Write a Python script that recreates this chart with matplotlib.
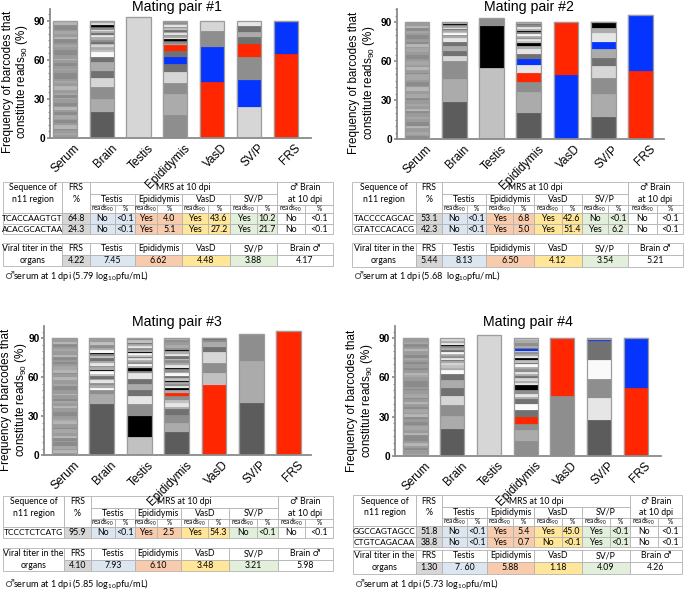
import numpy as np
import matplotlib
matplotlib.use("Agg")
import matplotlib.pyplot as plt
import matplotlib.transforms as mtransforms
from matplotlib.patches import Rectangle
from matplotlib.ticker import MultipleLocator

W, H, DPI = 685, 598, 100

categories = ["Serum", "Brain", "Testis", "Epididymis", "VasD", "SV/P", "FRS"]

SHADE = {
    "k": "#000000", "d": "#5c5c5c", "m": "#717171", "g": "#8e8e8e", "h": "#9b9b9b",
    "l": "#ababab", "L": "#c1c1c1", "p": "#d6d6d6", "w": "#e6e6e6", "W": "#fafafa",
    "R": "#ff2600", "B": "#0634ff",
    "a": "#a7a7a7", "b": "#b6b6b6", "c": "#8b8b8b",
}

# ---------------- Mating pair #1: stacked segment heights (bottom -> top) ----------------
pair1_heights = [
    [2, 1.5, 2.5, 1, 3, 1.5, 2, 1, 3, 2.5, 1.5, 2, 1, 2.5, 3, 1, 2, 1.5, 2.5, 3,
     2.5, 1, 2, 3, 1.5, 2, 1, 2.5, 2, 2.5, 1, 3, 2, 1.5, 2.5, 1, 2, 3, 1.5, 2.5,
     2, 1, 2.5, 1.5, 3],
    [20, 10, 9.5, 6.5, 5.5, 6.5, 4.5, 3.5,
     1.5, 2, 1.5, 1.5, 1.5, 1.5, 2, 1.5, 1.5, 1.5, 1, 1.5, 1, 1, 1.5, 2],
    [92.5],
    [17.5, 16, 9, 8, 6.2, 5.6, 4.7, 4,
     1.2, 1.2, 1.2, 1.3, 1.1, 1.2, 1.2, 1.1, 1.2, 1.2, 1.2, 1.1, 1.2, 1.2, 1.1, 1.3],
    [43, 27, 12, 8],
    [23.5, 21, 18, 10, 5, 4, 4.5, 4],
    [64.5, 24.5, 1],
]
pair1_shades = [
    "hahcbhchac" "hbhchacahb" "hahcchahch" "bhcchahcbh" "ahccb",
    "dlgpmlmW" "LlpLmglwmlwgmkpl",
    "p",
    "glgpmBmR" "lgmkwlgwlmLgwlgL",
    "RBgp",
    "pBgRmlmw",
    "RBg",
]

# ---------------- Mating pair #2 ----------------
pair2_heights = [
    [2.5, 1, 2, 3, 1.5, 2, 1, 2.5, 2, 2.5, 2, 1.5, 2.5, 1, 3, 1.5, 2, 1, 3, 2.5,
     1, 3, 2, 1.5, 2.5, 1, 2, 3, 1.5, 2.5, 1.5, 2, 1, 2.5, 3, 1, 2, 1.5, 2.5, 3,
     2, 1, 2.5, 1.5, 3],
    [28.9, 17.5, 13.8, 3.8, 4.2, 3.6, 3.2, 3.2,
     1.2, 1, 1.3, 1, 1.2, 0.8, 1.3, 1, 1.2, 0.8, 1],
    [55, 32.4, 5.6],
    [20.5, 16, 7.8, 6.9, 5.8, 4.8,
     4, 3.4, 2.6, 2, 1.5, 1.5, 1.5, 1.5, 1.2, 1.5, 1, 1.5, 1.2, 1.5, 1, 1.3],
    [49.5, 40.5],
    [17.4, 17.2, 12.3, 9.7, 6.2, 6.4, 5.8, 6.5, 4.5, 4],
    [52.8, 42.8],
]
pair2_shades = [
    "chahbcchah" "cbhahcaahb" "hchaachbha" "hcchahbchc" "hacbh",
    "dlgpmlmw" "lgWLlmwlgkl",
    "Lkg",
    "dlgRwB" "mwlkLwglWgklwgml",
    "BR",
    "dlgpmlBwlk",
    "RB",
]

# ---------------- Mating pair #3 ----------------
pair3_heights = [
    [1.5, 2, 1, 2.5, 3, 1, 2, 1.5, 2.5, 3, 1, 3, 2, 1.5, 2.5, 1, 2, 3, 1.5, 2.5,
     2, 1.5, 2.5, 1, 3, 1.5, 2, 1, 3, 2.5, 2.5, 1, 2, 3, 1.5, 2, 1, 2.5, 2, 2.5,
     2, 1, 2.5, 1.5, 3],
    [39.4, 7.6, 3, 2,
     2, 1.5, 2, 1.5, 2, 1.5, 2, 1, 2, 1.5, 2, 1.5, 2, 1.5, 2, 1, 2, 1.5, 2.5, 2, 3],
    [14.1, 16.3, 9, 6.4, 4.4, 4.3, 4.2, 4.3, 2, 2,
     1.5, 1.5, 1.5, 1.5, 1.5, 1, 1.5, 1.5, 1, 1.5, 1.5, 1.5, 1.5, 1, 2, 1.5],
    [18, 6.9, 6, 4.3, 1.6, 3.1, 2.6, 3.3, 2.3, 2.1, 1.2,
     1.5, 1.5, 2, 1, 2, 1.5, 2, 1.5, 2, 1, 2, 1.5, 2, 1.5, 2, 1.5, 2, 1, 2, 2.1, 2, 1.5, 1.5],
    [54, 9.5, 7.5, 8.5, 4, 3.4, 2, 1.1],
    [40.4, 32.1, 20.9],
    [95.7],
]
pair3_shades = [
    "hbhachcbha" "chbahcchbh" "achbhccahb" "hcbahchcbh" "ahcbh",
    "dlgW" "lgwlmLWklgwlmLgkWlgLh",
    "Lkgwmlmwgk" "lWglwmLWklgwlmLg",
    "dlgmlwLgRlk" "wglkLmWlgkwlgLmwlkglhgl",
    "RLgpmlgm",
    "dlg",
    "R",
]

# ---------------- Mating pair #4 ----------------
pair4_heights = [
    [1, 3, 2, 1.5, 2.5, 1, 2, 3, 1.5, 2.5, 2.5, 1, 2, 3, 1.5, 2, 1, 2.5, 2, 2.5,
     1.5, 2, 1, 2.5, 3, 1, 2, 1.5, 2.5, 3, 2, 1.5, 2.5, 1, 3, 1.5, 2, 1, 3, 2.5,
     2, 1, 2.5, 1.5, 3],
    [20.2, 10.2, 8.5, 6.9, 5.9, 6.3, 4.4, 3.3,
     1.5, 2, 1.5, 1.5, 1.5, 1.5, 1.5, 1.5, 1.5, 1.5, 1.5, 1.5, 1, 1.5, 1.5, 1.8],
    [92.5],
    [11.5, 8.2, 4.6, 5.1, 5.6, 4.6, 3.5, 2, 2.5, 3, 3.3,
     2, 1.5, 2, 1.5, 2, 1.5, 2, 1.5, 2, 1.5, 2.3, 1.2, 1.5, 1.5, 1.5, 1, 1, 1.5, 1.5, 2, 2, 1.6],
    [46, 44],
    [27.4, 16.9, 14.5, 14.6, 14.5, 0.5, 1.6],
    [51.7, 38.3],
]
pair4_shades = [
    "ahchbhccbh" "ahchcbhach" "bhcahchcch" "abhchchach" "bhcah",
    "dlgpmlmW" "lLplmwglWmlgkwlp",
    "p",
    "glgRmWmlwgk" "wlpmlwglWmLkwlgpBmlglL",
    "gR",
    "dwgWmBl",
    "RB",
]

# ---------------- Tables ----------------
pair1_seq = ["TCACCAAGTGT", "ACACGCACTAA"]
pair1_frs = ["64.8", "24.3"]
pair1_mrs = [["No", "<0.1", "Yes", "4.0", "Yes", "43.6", "Yes", "10.2", "No", "<0.1"],
             ["No", "<0.1", "Yes", "5.1", "Yes", "27.2", "Yes", "21.7", "No", "<0.1"]]
pair1_titer = ["4.22", "7.45", "6.62", "4.48", "3.88", "4.17"]
pair1_serum = "5.79"

pair2_seq = ["TACCCCAGCAC", "GTATCCACACG"]
pair2_frs = ["53.1", "42.3"]
pair2_mrs = [["No", "<0.1", "Yes", "6.8", "Yes", "42.6", "No", "<0.1", "No", "<0.1"],
             ["No", "<0.1", "Yes", "5.0", "Yes", "51.4", "Yes", "6.2", "No", "<0.1"]]
pair2_titer = ["5.44", "8.13", "6.50", "4.12", "3.54", "5.21"]
pair2_serum = "5.68 "

pair3_seq = ["TCCCTCTCATG"]
pair3_frs = ["95.9"]
pair3_mrs = [["No", "<0.1", "Yes", "2.5", "Yes", "54.3", "No", "<0.1", "No", "<0.1"]]
pair3_titer = ["4.10", "7.93", "6.10", "3.48", "3.21", "5.98"]
pair3_serum = "5.85"

pair4_seq = ["GGCCAGTAGCC", "CTGTCAGACAA"]
pair4_frs = ["51.8", "38.8"]
pair4_mrs = [["No", "<0.1", "Yes", "5.4", "Yes", "45.0", "Yes", "<0.1", "No", "<0.1"],
             ["No", "<0.1", "Yes", "0.7", "No", "<0.1", "Yes", "<0.1", "No", "<0.1"]]
pair4_titer = ["1.30", "7. 60", "5.88", "1.18", "4.09", "4.26"]
pair4_serum = "5.73"

tissues = ["Testis", "Epididymis", "VasD", "SV/P"]
titer_cols = ["FRS", "Testis", "Epididymis", "VasD", "SV/P", "Brain \u2642"]

# ---------------- Figure ----------------
plt.rcParams["font.family"] = ["Liberation Sans", "DejaVu Sans"]
fig = plt.figure(figsize=(W / DPI, H / DPI), dpi=DPI)
ov = fig.add_axes([0, 0, 1, 1], zorder=-1)
ov.set_xlim(0, W)
ov.set_ylim(H, 0)
ov.axis("off")

TFONT = ["Lato", "DejaVu Sans"]
FS = 6.3
FSS = 4.8
EDGE = "#b3b3b3"
C_FRS = "#d6d6d6"
GROUP_COL = ["#dce6f1", "#f8cbad", "#ffe699", "#e2efda", "#ffffff"]
BW = 0.66
AX_GRAY = "#8a8a8a"


def draw_panel(rect, xlim, ytop, heights, shades, title, title_xy, ylab_xy):
    l, t, r, b = rect
    ax = fig.add_axes([l / W, 1 - b / H, (r - l) / W, (b - t) / H])
    x = np.arange(len(categories))
    for i, (hs, cs) in enumerate(zip(heights, shades)):
        assert len(hs) == len(cs), (title, i, len(hs), len(cs))
        hs = np.asarray(hs, float)
        bottoms = np.concatenate([[0.0], np.cumsum(hs)[:-1]])
        cols = [SHADE[c] for c in cs]
        ax.bar(np.full(len(hs), x[i]), hs, bottom=bottoms, width=BW,
               color=cols, edgecolor=cols, linewidth=0.15, zorder=2)
        ax.bar(x[i], hs.sum(), width=BW, fill=False, edgecolor="#9c9c9c",
               linewidth=0.9, zorder=3)
    ax.set_xlim(*xlim)
    ax.set_ylim(0, ytop)
    for s in ["top", "right"]:
        ax.spines[s].set_visible(False)
    for s in ["left", "bottom"]:
        ax.spines[s].set_color(AX_GRAY)
        ax.spines[s].set_linewidth(1.3)
    ax.set_yticks([0, 30, 60, 90])
    ax.yaxis.set_minor_locator(MultipleLocator(5))
    ax.tick_params(axis="y", which="major", length=2.5, width=1.2, color=AX_GRAY,
                   pad=1.0, labelsize=7.3)
    ax.tick_params(axis="y", which="minor", length=1.5, width=0.8, color=AX_GRAY)
    for lab in ax.get_yticklabels():
        lab.set_fontweight("bold")
    ax.set_xticks(x)
    ax.set_xticklabels(categories, rotation=45, ha="right", va="center",
                       rotation_mode="anchor", fontsize=8.5)
    ax.tick_params(axis="x", length=0, pad=6.0)
    off = mtransforms.ScaledTranslation(0.13, 0, fig.dpi_scale_trans)
    for lab in ax.get_xticklabels():
        lab.set_transform(lab.get_transform() + off)
    ax.set_ylabel("Frequency of barcodes that\nconstitute reads$_{\\mathregular{90}}$ (%)",
                  fontsize=8.4, linespacing=1.06)
    ax.yaxis.set_label_coords(*ylab_xy)
    ax.patch.set_alpha(0)
    ov.text(title_xy[0], title_xy[1], title, ha="center", va="center", fontsize=10.2)
    return ax


def cell(x0, x1, y0, y1, fc="white"):
    ov.add_patch(Rectangle((x0, y0), x1 - x0, y1 - y0, facecolor=fc,
                           edgecolor=EDGE, linewidth=0.6))


def ctext(x0, x1, y, s, fs=FS):
    ov.text((x0 + x1) / 2, y, s, ha="center", va="center", fontsize=fs, family=TFONT)


def draw_table(xe, top, seqs, frs, mrs, titer, vtop, foot_y, serum):
    rA, rB, rC, rD = 12, 10.5, 8.5, 10.7
    yA = top
    yB = yA + rA
    yC = yB + rB
    yD = yC + rC
    cell(xe[0], xe[1], yA, yD)
    ctext(xe[0], xe[1], yA + 6, "Sequence of")
    ctext(xe[0], xe[1], yB + 5.3, "n11 region")
    cell(xe[1], xe[2], yA, yD)
    ctext(xe[1], xe[2], yA + 6, "FRS")
    ctext(xe[1], xe[2], yB + 5.3, "%")
    cell(xe[2], xe[10], yA, yB)
    ctext(xe[2], xe[10], yA + 6, "MRS at 10 dpi")
    for k, tname in enumerate(tissues):
        cell(xe[2 + 2 * k], xe[4 + 2 * k], yB, yC)
        ctext(xe[2 + 2 * k], xe[4 + 2 * k], yB + 5.3, tname)
    cell(xe[10], xe[12], yA, yC)
    ctext(xe[10], xe[12], yA + 6, "\u2642 Brain")
    ctext(xe[10], xe[12], yB + 5.3, "at 10 dpi")
    for k in range(10):
        cell(xe[2 + k], xe[3 + k], yC, yD)
        ctext(xe[2 + k], xe[3 + k], yC + 4.2,
              "reads$_{\\mathregular{90}}$" if k % 2 == 0 else "%", fs=FSS)
    for j, s in enumerate(seqs):
        y0 = yD + j * rD
        cell(xe[0], xe[1], y0, y0 + rD)
        ctext(xe[0], xe[1], y0 + rD / 2, s, fs=6.0)
        cell(xe[1], xe[2], y0, y0 + rD, C_FRS)
        ctext(xe[1], xe[2], y0 + rD / 2, frs[j])
        for k in range(10):
            cell(xe[2 + k], xe[3 + k], y0, y0 + rD, GROUP_COL[k // 2])
            ctext(xe[2 + k], xe[3 + k], y0 + rD / 2, mrs[j][k])
    # viral titer table
    vr = 11.8
    cell(xe[0], xe[1], vtop, vtop + 2 * vr)
    ctext(xe[0], xe[1], vtop + vr / 2, "Viral titer in the")
    ctext(xe[0], xe[1], vtop + 1.5 * vr, "organs")
    vx = [xe[1], xe[2], xe[4], xe[6], xe[8], xe[10], xe[12]]
    vcols = [C_FRS] + GROUP_COL
    for k in range(6):
        cell(vx[k], vx[k + 1], vtop, vtop + vr)
        ctext(vx[k], vx[k + 1], vtop + vr / 2, titer_cols[k])
        cell(vx[k], vx[k + 1], vtop + vr, vtop + 2 * vr, vcols[k])
        ctext(vx[k], vx[k + 1], vtop + 1.5 * vr, titer[k])
    ov.text(xe[0] + 1, foot_y, "\u2642", ha="left", va="center", fontsize=8,
            family=["DejaVu Sans"], color="#555555")
    ov.text(xe[0] + 10, foot_y,
            "serum at 1 dpi (" + serum + " log$_{\\mathregular{10}}$pfu/mL)",
            ha="left", va="center", fontsize=6.6, family=TFONT)


draw_panel((50, 9, 311, 138), (-0.41, 6.69), 99, pair1_heights, pair1_shades,
           "Mating pair #1", (177, 7), (-0.076, 0.434))
draw_panel((396.7, 9.3, 664, 139.3), (-0.545, 6.63), 100, pair2_heights, pair2_shades,
           "Mating pair #2", (529, 7), (-0.075, 0.433))
draw_panel((44.3, 326, 311, 455), (-0.54, 6.6), 99.5, pair3_heights, pair3_shades,
           "Mating pair #3", (177, 322), (-0.058, 0.426))
draw_panel((395, 326, 661, 455.7), (-0.56, 6.69), 99.4, pair4_heights, pair4_shades,
           "Mating pair #4", (528, 322), (-0.075, 0.42))

draw_table([3, 62, 90, 115, 135, 157, 182, 208, 230, 257, 277, 305, 333], 182,
           pair1_seq, pair1_frs, pair1_mrs, pair1_titer, 242.7, 276, pair1_serum)
draw_table([352, 416, 442, 467, 486, 513, 534, 562, 582, 608, 628, 657, 683], 182,
           pair2_seq, pair2_frs, pair2_mrs, pair2_titer, 243, 276, pair2_serum)
draw_table([3, 64, 91, 115, 135, 157, 181, 208, 229, 257, 278, 305, 333], 496,
           pair3_seq, pair3_frs, pair3_mrs, pair3_titer, 547.7, 584, pair3_serum)
draw_table([353, 416, 442, 467, 487, 513, 534, 562, 582, 610, 630, 658, 682], 495,
           pair4_seq, pair4_frs, pair4_mrs, pair4_titer, 550, 584, pair4_serum)

fig.savefig("out.png", dpi=DPI)
